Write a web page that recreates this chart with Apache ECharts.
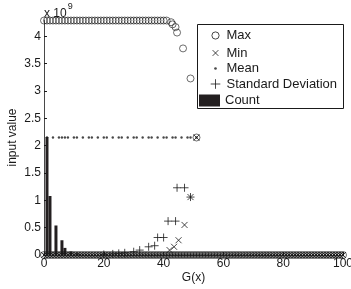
<!DOCTYPE html>
<html>
<head>
<meta charset="utf-8">
<script src="https://cdn.jsdelivr.net/npm/echarts@6/dist/echarts.min.js"></script>
<style>
  html, body { margin: 0; padding: 0; background: #fff; }
  #chart { width: 351px; height: 289px; }
</style>
</head>
<body>
<div id="chart"></div>
<script>
// values (input value in raw units, axis shows x 10^9)
const xTicks = [0, 20, 40, 60, 80, 100]

const maxX = [0, 1, 2, 3, 4, 5, 6, 7, 8, 9, 10, 11, 12, 13, 14, 15, 16, 17, 18, 19, 20,
  21, 22, 23, 24, 25, 26, 27, 28, 29, 30, 31, 32, 33, 34, 35, 36, 37, 38, 39, 40,
  41, 42.5, 43, 44, 44.5, 46.5, 49, 51]
const maxY = [4.29e9, 4.29e9, 4.29e9, 4.29e9, 4.29e9, 4.29e9, 4.29e9, 4.29e9, 4.29e9, 4.29e9, 4.29e9,
  4.29e9, 4.29e9, 4.29e9, 4.29e9, 4.29e9, 4.29e9, 4.29e9, 4.29e9, 4.29e9, 4.29e9,
  4.29e9, 4.29e9, 4.29e9, 4.29e9, 4.29e9, 4.29e9, 4.29e9, 4.29e9, 4.29e9, 4.29e9,
  4.29e9, 4.29e9, 4.29e9, 4.29e9, 4.29e9, 4.29e9, 4.29e9, 4.29e9, 4.29e9, 4.29e9,
  4.29e9, 4.26e9, 4.22e9, 4.17e9, 4.07e9, 3.78e9, 3.23e9, 2.15e9]

const minX = [42, 43.5, 45, 47, 49, 51]
const minY = [0.09e9, 0.15e9, 0.27e9, 0.55e9, 1.06e9, 2.15e9]

const meanX = [1, 3, 5, 6, 7, 8, 10, 11, 13, 15, 16, 18, 20, 21, 23, 25, 26, 28, 30, 31,
  33, 35, 36, 38, 40, 41, 43, 44, 46, 48, 49, 51]
const meanY = [2.15e9, 2.15e9, 2.15e9, 2.15e9, 2.15e9, 2.15e9, 2.15e9, 2.15e9, 2.15e9, 2.15e9,
  2.15e9, 2.15e9, 2.15e9, 2.15e9, 2.15e9, 2.15e9, 2.15e9, 2.15e9, 2.15e9, 2.15e9,
  2.15e9, 2.15e9, 2.15e9, 2.15e9, 2.15e9, 2.15e9, 2.15e9, 2.15e9, 2.15e9, 2.15e9,
  2.15e9, 2.15e9]

const stdX = [20, 23, 25, 27, 30, 32, 35, 37, 38, 40, 41.5, 44, 44.5, 47, 49]
const stdY = [0.01e9, 0.02e9, 0.03e9, 0.04e9, 0.06e9, 0.09e9, 0.15e9, 0.17e9, 0.32e9, 0.32e9,
  0.62e9, 0.62e9, 1.23e9, 1.23e9, 1.06e9]

const countX = [1, 2, 4, 6, 7, 9, 11, 12, 14, 16, 17]
const countY = [2.16e9, 1.08e9, 0.54e9, 0.27e9, 0.13e9, 0.065e9, 0.033e9, 0.017e9, 0.008e9, 0.004e9, 0.002e9]

// the dark strip along the bottom: max, min and mean markers sitting at 0
const bandX = [0, 1, 2, 3, 4, 5, 6, 7, 8, 9, 10, 11, 12, 13, 14, 15, 16, 17, 18, 19, 20,
  21, 22, 23, 24, 25, 26, 27, 28, 29, 30, 31, 32, 33, 34, 35, 36, 37, 38, 39, 40,
  41, 42, 43, 44, 45, 46, 47, 48, 49, 50, 51, 52, 53, 54, 55, 56, 57, 58, 59, 60,
  61, 62, 63, 64, 65, 66, 67, 68, 69, 70, 71, 72, 73, 74, 75, 76, 77, 78, 79, 80,
  81, 82, 83, 84, 85, 86, 87, 88, 89, 90, 91, 92, 93, 94, 95, 96, 97, 98, 99, 100]

const zip = (xs, ys) => xs.map((x, i) => [x, ys[i]])
const band = bandX.map(x => [x, 0])

const crossPath = 'path://M0,0L10,10M10,0L0,10'
const plusPath = 'path://M5,0L5,10M0,5L10,5'
// legend icons: the M0,0 M10,10 corners keep each glyph small inside its 10x10 box
const legendCircle = 'path://M0,0M10,10M2,5A3,3,0,1,0,8,5A3,3,0,1,0,2,5Z'
const legendCross = 'path://M0,0M10,10M2.6,2.6L7.4,7.4M7.4,2.6L2.6,7.4'
const legendDot = 'path://M0,0M10,10M3.9,5A1.1,1.1,0,1,0,6.1,5A1.1,1.1,0,1,0,3.9,5Z'
const legendPlus = 'path://M0,0M10,10M5,1L5,9M1,5L9,5'
const ink = '#1a1a1a'
const font = 'Liberation Sans, Arial, sans-serif'

const chart = echarts.init(document.getElementById('chart'), null, { renderer: 'canvas' })

const strokeIcon = { color: 'none', borderColor: ink, borderWidth: 1 }

chart.setOption({
  animation: false,
  backgroundColor: '#fff',
  grid: { left: 44, right: 8, top: 20, bottom: 34, containLabel: false, outerBoundsMode: 'none' },
  xAxis: {
    type: 'value',
    min: 0,
    max: 100,
    interval: 20,
    name: 'G(x)',
    nameLocation: 'middle',
    nameGap: 17,
    nameMoveOverlap: false,
    nameTextStyle: { color: ink, fontSize: 12, fontFamily: font, verticalAlign: 'top' },
    axisLine: { lineStyle: { color: ink, width: 0.8 } },
    axisTick: { inside: true, length: 3, lineStyle: { color: ink } },
    axisLabel: {
      color: ink, fontSize: 12, fontFamily: font, margin: 3,
      formatter: v => xTicks.includes(v) ? String(v) : ''
    },
    splitLine: { show: false }
  },
  yAxis: {
    type: 'value',
    min: 0,
    max: 4.3e9,
    interval: 0.5e9,
    name: 'input value',
    nameLocation: 'middle',
    nameGap: 31,
    nameMoveOverlap: false,
    nameTextStyle: { color: ink, fontSize: 12, fontFamily: font, verticalAlign: 'middle' },
    axisLine: { show: true, lineStyle: { color: ink, width: 0.8 } },
    axisTick: { show: true, inside: true, length: 3, lineStyle: { color: ink } },
    axisLabel: {
      color: ink, fontSize: 12, fontFamily: font, margin: 3,
      showMaxLabel: false,
      formatter: v => String(Math.round(v / 1e8) / 10)
    },
    splitLine: { show: false }
  },
  graphic: [
    {
      type: 'text',
      left: 44,
      top: 2,
      style: {
        text: '{a|x 10}{b|9}',
        rich: {
          a: { fontSize: 12, fontFamily: font, fill: ink, padding: [6, 0, 0, 0] },
          b: { fontSize: 9, fontFamily: font, fill: ink, verticalAlign: 'top', padding: [0, 0, 0, 1] }
        }
      }
    },
    {
      type: 'rect',
      z: 3,
      shape: { x: 197.5, y: 24.5, width: 146, height: 84 },
      style: { fill: '#fff', stroke: ink, lineWidth: 1 }
    }
  ],
  legend: [
    {
      z: 5,
      orient: 'vertical',
      left: 207,
      top: 27,
      itemWidth: 12,
      itemHeight: 12,
      itemGap: 0.5,
      padding: 0,
      textStyle: { color: ink, fontSize: 13, fontFamily: font },
      data: [
        { name: 'Max', icon: legendCircle, itemStyle: strokeIcon },
        { name: 'Min', icon: legendCross, itemStyle: strokeIcon },
        { name: 'Mean', icon: legendDot, itemStyle: { color: ink, borderWidth: 0 } },
        { name: 'Standard Deviation', icon: legendPlus, itemStyle: strokeIcon }
      ]
    },
    {
      z: 5,
      left: 199,
      top: 94,
      itemWidth: 21,
      itemHeight: 12,
      padding: 0,
      textStyle: { color: ink, fontSize: 13, fontFamily: font },
      data: [{ name: 'Count', icon: 'rect', itemStyle: { color: '#231f20' } }]
    }
  ],
  series: [
    {
      name: 'Count',
      type: 'bar',
      barWidth: 3,
      itemStyle: { color: '#231f20' },
      data: zip(countX, countY),
      z: 1
    },
    {
      name: 'Max',
      type: 'scatter',
      symbol: 'circle',
      symbolSize: 7,
      itemStyle: { color: 'rgba(0,0,0,0)', borderColor: ink, borderWidth: 0.8 },
      data: zip(maxX, maxY).concat(band)
    },
    {
      name: 'Min',
      type: 'scatter',
      symbol: crossPath,
      symbolSize: 6,
      itemStyle: { color: 'none', borderColor: ink, borderWidth: 1 },
      data: zip(minX, minY).concat(band)
    },
    {
      name: 'Mean',
      type: 'scatter',
      symbol: 'circle',
      symbolSize: 2.4,
      itemStyle: { color: ink },
      data: zip(meanX, meanY).concat(band)
    },
    {
      name: 'Standard Deviation',
      type: 'scatter',
      symbol: plusPath,
      symbolSize: 8,
      itemStyle: { color: 'none', borderColor: ink, borderWidth: 1 },
      data: zip(stdX, stdY)
    }
  ]
})
</script>
</body>
</html>
